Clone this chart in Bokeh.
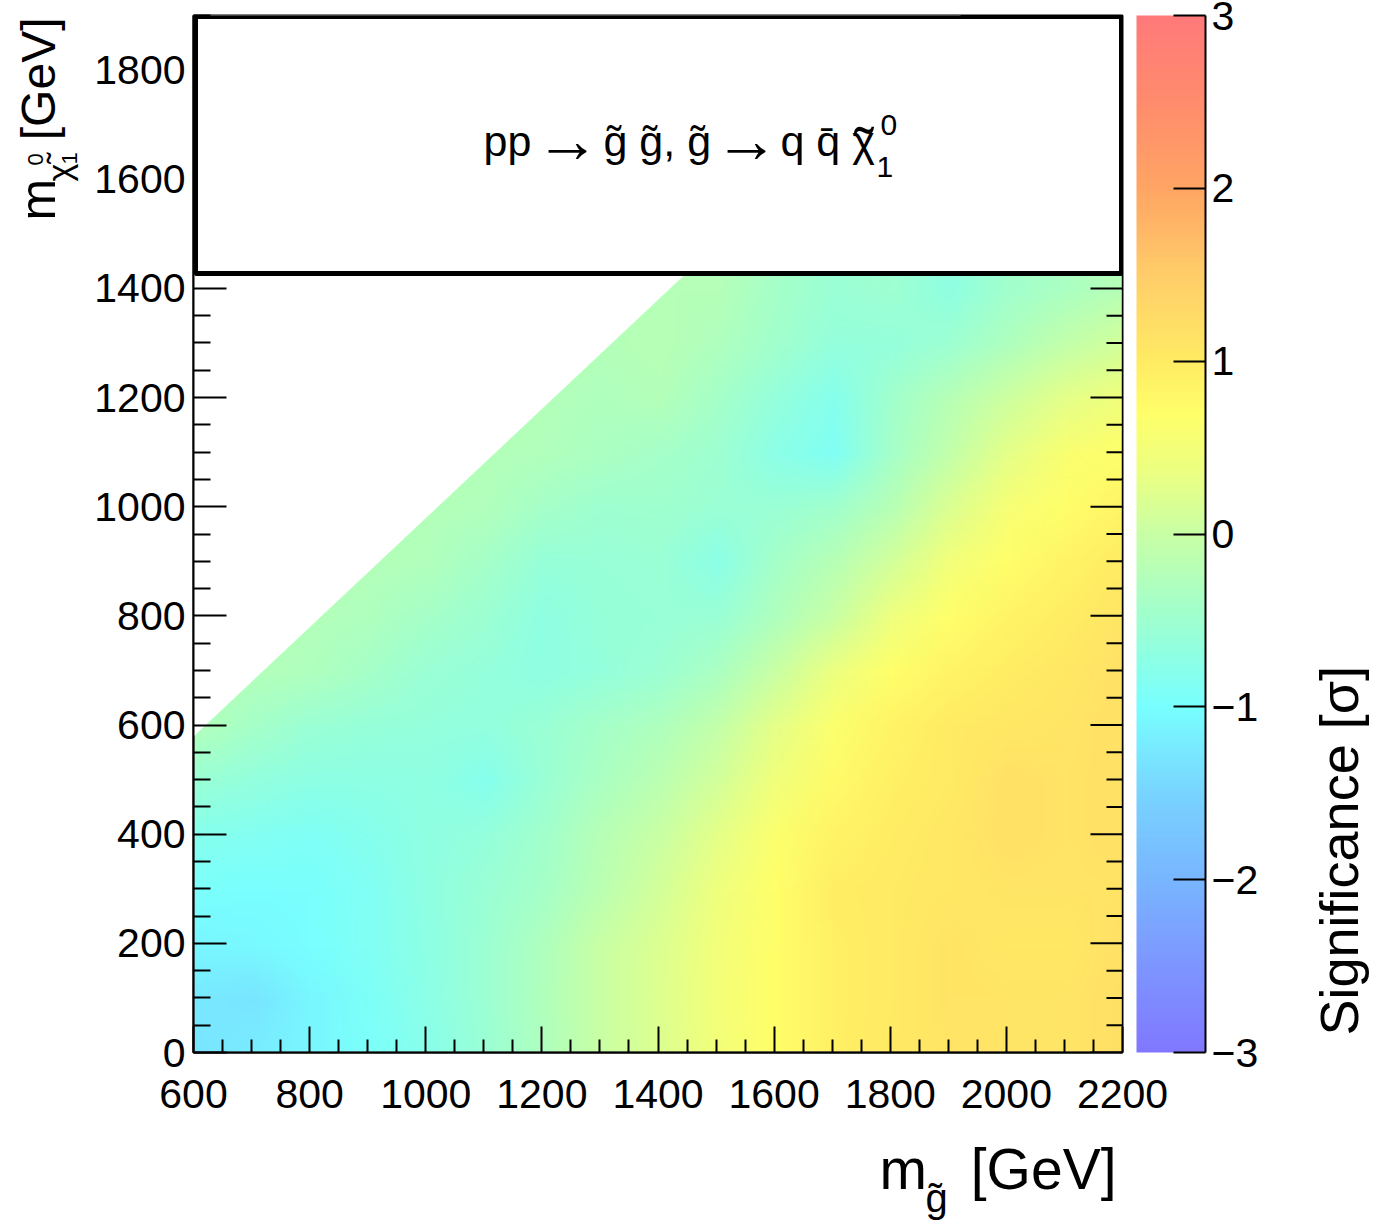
import base64
import struct
import zlib

import numpy as np
from bokeh.plotting import figure
from bokeh.layouts import row, column
from bokeh.models import (LinearColorMapper, ColorBar, FixedTicker,
                          BoxAnnotation, Label, Range1d)
from bokeh.embed import file_html
from bokeh.resources import INLINE

# ---------------------------------------------------------------------------
# Expected-significance map for gluino pair production, g~ -> q q~ chi1^0
# columns: gluino mass [GeV], rows: neutralino mass [GeV]
# ---------------------------------------------------------------------------
m_gluino = [600, 700, 800, 900, 1000, 1100, 1200, 1300, 1400,
            1500, 1600, 1700, 1800, 1900, 2000, 2100, 2200]
m_lsp = [0, 100, 200, 300, 400, 500, 600, 700, 800, 900,
         1000, 1100, 1200, 1300, 1400]
NA = None
significance = [
    [-1.30, -1.20, -1.08, -0.95, -0.78, -0.55, -0.30, 0.00, 0.20, 0.48, 0.72, 0.92, 1.02, 1.08, 1.08, 1.08, 1.18],
    [-1.25, -1.30, -1.08, -0.93, -0.75, -0.52, -0.28, 0.00, 0.22, 0.50, 0.72, 0.92, 1.00, 1.12, 1.08, 1.08, 1.18],
    [-1.10, -1.07, -1.00, -0.88, -0.72, -0.52, -0.30, 0.00, 0.20, 0.48, 0.72, 0.92, 1.00, 1.12, 1.05, 1.05, 1.15],
    [-0.95, -1.00, -0.97, -0.87, -0.70, -0.55, -0.40, -0.15, 0.10, 0.40, 0.70, 0.95, 1.00, 1.05, 1.08, 1.08, 1.12],
    [-0.80, -0.85, -0.90, -0.82, -0.70, -0.62, -0.45, -0.20, 0.00, 0.30, 0.65, 0.85, 0.98, 1.05, 1.15, 1.12, 1.15],
    [-0.55, -0.65, -0.72, -0.72, -0.68, -0.80, -0.55, -0.35, -0.15, 0.10, 0.45, 0.75, 0.92, 1.00, 1.15, 1.12, 1.15],
    [-0.25, -0.40, -0.55, -0.60, -0.62, -0.65, -0.55, -0.40, -0.30, -0.05, 0.30, 0.65, 0.85, 1.00, 1.05, 1.08, 1.15],
    [-0.20, -0.25, -0.30, -0.42, -0.55, -0.62, -0.68, -0.62, -0.52, -0.33, 0.00, 0.38, 0.70, 0.85, 0.98, 1.05, 1.15],
    [NA, -0.20, -0.25, -0.30, -0.42, -0.52, -0.70, -0.60, -0.57, -0.55, -0.30, 0.00, 0.40, 0.70, 0.85, 0.98, 1.08],
    [NA, NA, -0.20, -0.25, -0.28, -0.42, -0.60, -0.58, -0.55, -0.75, -0.40, -0.20, 0.10, 0.48, 0.72, 0.85, 1.00],
    [NA, NA, NA, -0.20, -0.25, -0.28, -0.40, -0.50, -0.48, -0.55, -0.55, -0.45, -0.20, 0.20, 0.55, 0.72, 0.85],
    [NA, NA, NA, NA, -0.20, -0.25, -0.28, -0.35, -0.40, -0.50, -0.75, -0.88, -0.40, -0.05, 0.30, 0.60, 0.72],
    [NA, NA, NA, NA, NA, -0.20, -0.25, -0.30, -0.25, -0.40, -0.62, -0.82, -0.45, -0.20, 0.05, 0.30, 0.45],
    [NA, NA, NA, NA, NA, NA, -0.20, -0.25, -0.20, -0.30, -0.45, -0.62, -0.62, -0.50, -0.30, -0.05, 0.10],
    [NA, NA, NA, NA, NA, NA, NA, -0.20, -0.22, -0.22, -0.40, -0.55, -0.50, -0.68, -0.45, -0.35, -0.20],
]
# kinematic edge of the scan: m(chi1^0) = m(g~) - edge_gap
edge_gap = 20

# axis ranges and ticks
x_range = (600, 2200)
y_range = (0, 1900)
z_range = (-3, 3)
x_ticks = [600, 800, 1000, 1200, 1400, 1600, 1800, 2000, 2200]
y_ticks = [0, 200, 400, 600, 800, 1000, 1200, 1400, 1600, 1800]
z_ticks = [-3, -2, -1, 0, 1, 2, 3]
z_labels = {-3: "\u22123", -2: "\u22122", -1: "\u22121", 0: "0", 1: "1", 2: "2", 3: "3"}
x_minor = [v for v in range(600, 2201, 50) if v not in x_ticks]
y_minor = [v for v in range(0, 1901, 50) if v not in y_ticks]

# colour scale stops (value, colour) of the significance palette
stop_values = [-3.0, -2.5, -2.0, -1.5, -1.0, -0.5, 0.0, 0.35, 0.7, 1.0, 1.5, 2.0, 2.5, 3.0]
stop_colors = [(128, 120, 255), (125, 150, 255), (120, 182, 255), (120, 212, 255),
               (120, 255, 255), (158, 255, 208), (200, 255, 165), (235, 255, 130),
               (255, 255, 105), (255, 235, 100), (255, 205, 105), (255, 165, 100),
               (255, 140, 108), (255, 122, 122)]

FONT = "Liberation Sans"
BASE = 0.35  # baseline offset of Label text, in em

# ---------------------------------------------------------------------------
N_COL = 256
levels = np.linspace(z_range[0], z_range[1], N_COL)
sc = np.array(stop_colors, dtype=float)
palette_rgb = []
for v in levels:
    palette_rgb.append(tuple(int(round(np.interp(v, stop_values, sc[:, k]))) for k in range(3)))
palette = ["#%02x%02x%02x" % c for c in palette_rgb]

mapper = LinearColorMapper(palette=palette, low=z_range[0], high=z_range[1],
                           nan_color="rgba(0, 0, 0, 0)")


def map_color(v):
    """Same lookup as the linear colour mapper: value -> RGBA."""
    if v is None or np.isnan(v):
        return (0, 0, 0, 0)
    i = int((v - z_range[0]) / (z_range[1] - z_range[0]) * N_COL)
    i = min(max(i, 0), N_COL - 1)
    return palette_rgb[i] + (255,)


def png_url(rows_top_down):
    """Encode RGBA rows as an inline PNG (one pixel per scan point)."""
    h, w = len(rows_top_down), len(rows_top_down[0])
    raw = b"".join(b"\x00" + bytes(c for px in r for c in px) for r in rows_top_down)

    def chunk(tag, data):
        return (struct.pack(">I", len(data)) + tag + data +
                struct.pack(">I", zlib.crc32(tag + data) & 0xFFFFFFFF))

    png = (b"\x89PNG\r\n\x1a\n" +
           chunk(b"IHDR", struct.pack(">IIBBBBB", w, h, 8, 6, 0, 0, 0)) +
           chunk(b"IDAT", zlib.compress(raw, 9)) + chunk(b"IEND", b""))
    return "data:image/png;base64," + base64.b64encode(png).decode("ascii")


# page layout (pixels)
W, H = 1374, 1225
FRAME_L, FRAME_T, FRAME_W, FRAME_H = 193, 15, 929, 1037
FRAME_B = FRAME_T + FRAME_H
LEFT_W, RIGHT_W, TOP_H = 88, 84, 1137
MAIN_W = W - LEFT_W - RIGHT_W

p = figure(width=MAIN_W, height=TOP_H, output_backend="svg", toolbar_location=None,
           x_range=Range1d(*x_range), y_range=Range1d(*y_range),
           min_border_left=FRAME_L - LEFT_W, min_border_top=FRAME_T,
           min_border_right=MAIN_W - (FRAME_L - LEFT_W) - FRAME_W,
           min_border_bottom=TOP_H - FRAME_B)
p.grid.visible = False
p.background_fill_color = "white"
p.border_fill_color = "white"
p.outline_line_color = "black"
p.outline_line_width = 2

# heat map: one pixel per scan point, shaded smoothly in between by the browser
step_x = m_gluino[1] - m_gluino[0]
step_y = m_lsp[1] - m_lsp[0]
rows_rgba = [[map_color(v) for v in r] for r in reversed(significance)]
p.image_url(url=[png_url(rows_rgba)], x=m_gluino[0] - step_x / 2,
            y=m_lsp[-1] + step_y / 2, w=step_x * len(m_gluino),
            h=step_y * len(m_lsp), anchor="top_left")

# region beyond the kinematic edge stays empty
p.patch(x=[x_range[0], y_range[1] + edge_gap + 200, x_range[0]],
        y=[x_range[0] - edge_gap, y_range[1] + 200, y_range[1] + 200],
        fill_color="white", line_color="white", line_width=1)

# ticks on the right-hand edge (pointing inwards, no labels)
gev_per_px = (x_range[1] - x_range[0]) / FRAME_W
p.segment(x0=[x_range[1] - 32 * gev_per_px] * len(y_ticks), y0=y_ticks,
          x1=[x_range[1]] * len(y_ticks), y1=y_ticks, line_color="black", line_width=2)
p.segment(x0=[x_range[1] - 16 * gev_per_px] * len(y_minor), y0=y_minor,
          x1=[x_range[1]] * len(y_minor), y1=y_minor, line_color="black", line_width=2)


def style_axis(ax, tick_in, minor_in):
    ax.axis_line_color = "black"
    ax.axis_line_width = 2
    ax.major_tick_in = tick_in
    ax.major_tick_out = 0
    ax.minor_tick_in = minor_in
    ax.minor_tick_out = 0
    ax.major_tick_line_width = 2
    ax.minor_tick_line_width = 2
    ax.major_tick_line_color = "black"
    ax.minor_tick_line_color = "black"
    ax.major_label_text_font = FONT
    ax.major_label_text_font_size = "41px"
    ax.major_label_text_color = "black"


p.xaxis.ticker = FixedTicker(ticks=x_ticks, minor_ticks=x_minor)
p.yaxis.ticker = FixedTicker(ticks=y_ticks, minor_ticks=y_minor)
style_axis(p.xaxis[0], 26, 13)
style_axis(p.yaxis[0], 33, 17)
p.xaxis.major_label_standoff = 27
p.yaxis.major_label_standoff = 8


def sx(X):
    return X - FRAME_L


def sy(Y):
    return FRAME_B - Y


# process box
p.add_layout(BoxAnnotation(left=sx(195), right=sx(1121), top=sy(16), bottom=sy(273),
                           left_units="screen", right_units="screen",
                           top_units="screen", bottom_units="screen",
                           fill_color="white", fill_alpha=1.0,
                           line_color="black", line_alpha=1.0, line_width=5,
                           level="annotation"))


def main_label(text, X, Y, size):
    p.add_layout(Label(x=sx(X), y=sy(Y - BASE * size), x_units="screen", y_units="screen",
                       text=text, text_font=FONT, text_font_size=f"{size}px",
                       text_align="left", text_baseline="alphabetic",
                       text_color="black"))


main_label("pp", 483, 156, 43)
main_label("\u2192", 535, 162, 64)
main_label("g\u0303 g\u0303, g\u0303", 603, 156, 43)
main_label("\u2192", 714, 162, 64)
main_label("q q\u0304 \u03c7", 780, 156, 43)
main_label("\u02dc", 854, 167, 58)
main_label("0", 880, 135, 30)
main_label("1", 876, 177, 30)

cbar = ColorBar(color_mapper=mapper, width=69, height=FRAME_H, padding=0, margin=0,
                location=(1136 - FRAME_L, 0),
                ticker=FixedTicker(ticks=z_ticks, minor_ticks=[]),
                major_label_overrides=z_labels,
                major_label_text_font=FONT, major_label_text_font_size="41px",
                major_label_text_color="black", label_standoff=6,
                major_tick_in=32, major_tick_out=0, major_tick_line_color="black",
                major_tick_line_width=2, minor_tick_line_color=None,
                bar_line_color=None, border_line_color=None,
                background_fill_color=None)
p.add_layout(cbar, "center")

# black edge on the axis side of the colour bar
edge = ColorBar(color_mapper=LinearColorMapper(palette=["#000000"], low=0, high=1),
                width=2, height=FRAME_H, padding=0, margin=0,
                location=(1204 - FRAME_L, 0), ticker=FixedTicker(ticks=[]),
                major_tick_line_color=None, minor_tick_line_color=None,
                bar_line_color=None, border_line_color=None,
                background_fill_color=None)
p.add_layout(edge, "center")


# ---------------------------------------------------------------------------
# axis titles live in their own text panels; data coordinates = page pixels
def text_panel(width, height, x0, y_top, y_bottom, border_top, border_bottom):
    f = figure(width=width, height=height, output_backend="svg", toolbar_location=None,
               x_range=Range1d(x0, x0 + width), y_range=Range1d(y_bottom, y_top),
               x_axis_type=None, y_axis_type=None, min_border=0,
               min_border_top=border_top, min_border_bottom=border_bottom)
    f.grid.visible = False
    f.outline_line_color = None
    f.background_fill_color = "white"
    f.border_fill_color = "white"
    return f


def panel_label(f, text, X, Y, size, align="left", rotated=False):
    if rotated:
        f.add_layout(Label(x=X - BASE * size, y=Y, text=text, text_font=FONT,
                           text_font_size=f"{size}px", text_align=align,
                           text_baseline="alphabetic", angle=np.pi / 2,
                           text_color="black"))
    else:
        f.add_layout(Label(x=X, y=Y - BASE * size, text=text, text_font=FONT,
                           text_font_size=f"{size}px", text_align=align,
                           text_baseline="alphabetic", text_color="black"))


# side panels share the frame rows of the main plot
ty = text_panel(LEFT_W, TOP_H, 0, FRAME_T, FRAME_B, FRAME_T, TOP_H - FRAME_B)
panel_label(ty, "m", 55, 220, 50, rotated=True)
panel_label(ty, "\u03c7\u0303", 70, 181, 34, rotated=True)
panel_label(ty, "0", 43, 165, 22, rotated=True)
panel_label(ty, "1", 77, 164, 22, rotated=True)
panel_label(ty, "[GeV]", 55, 17, 48, align="right", rotated=True)

tz = text_panel(RIGHT_W, TOP_H, LEFT_W + MAIN_W, FRAME_T, FRAME_B, FRAME_T, TOP_H - FRAME_B)
panel_label(tz, "Significance [\u03c3]", 1357, 1035, 54, rotated=True)

tx = text_panel(W, H - TOP_H, 0, TOP_H, H, 0, 0)
panel_label(tx, "m", 879, 1188, 57)
panel_label(tx, "g\u0303", 925, 1211, 40)
panel_label(tx, "[GeV]", 1116, 1188, 57, align="right")

layout = column(row(ty, p, tz), tx)

open("out.html", "w").write(file_html(layout, INLINE))
